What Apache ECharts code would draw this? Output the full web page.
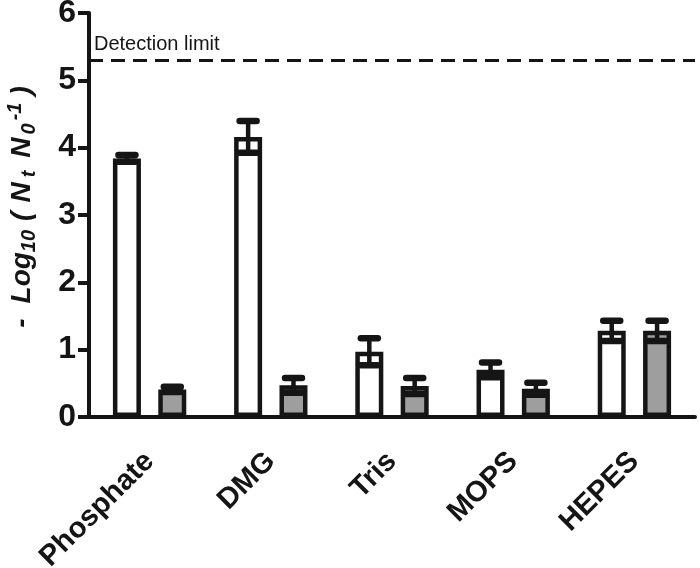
<!DOCTYPE html>
<html>
<head>
<meta charset="utf-8">
<script src="https://cdn.jsdelivr.net/npm/echarts@6/dist/echarts.min.js"></script>
<style>
html,body{margin:0;padding:0;background:#fff;}
#chart{width:700px;height:568px;}
</style>
</head>
<body>
<div id="chart"></div>
<script>
const categories = ['Phosphate', 'DMG', 'Tris', 'MOPS', 'HEPES'];
const whiteValues = [3.84, 4.16, 0.97, 0.70, 1.28];
const whiteErrors = [0.05, 0.235, 0.20, 0.11, 0.15];
const grayValues = [0.41, 0.47, 0.46, 0.42, 1.28];
const grayErrors = [0.04, 0.11, 0.12, 0.09, 0.15];
const detectionLimit = 5.3;
const detectionLabel = 'Detection limit';
const yMin = 0, yMax = 6, yInterval = 1;

const BAR_W = 28;
const BAR_GAP = 0.62;
const INK = '#151515';
const FONT = '"Liberation Sans", Arial, Helvetica, sans-serif';

const chart = echarts.init(document.getElementById('chart'), null, {renderer: 'canvas'});

function errorRenderer(sign) {
  return function (params, api) {
    const cat = api.value(0), v = api.value(1), e = api.value(2);
    const hi = api.coord([cat, v + e]);
    const lo = api.coord([cat, v - e]);
    const off = sign * (BAR_W + BAR_W * BAR_GAP) / 2;
    const x = hi[0] + off;
    const cw = 8.5;
    const st = {stroke: INK, lineWidth: 6.5, lineCap: 'round'};
    return {
      type: 'group',
      children: [
        {type: 'line', shape: {x1: x, y1: hi[1], x2: x, y2: lo[1]}, style: {stroke: INK, lineWidth: 4.5}},
        {type: 'line', shape: {x1: x - cw, y1: hi[1], x2: x + cw, y2: hi[1]}, style: st},
        {type: 'line', shape: {x1: x - cw, y1: lo[1], x2: x + cw, y2: lo[1]}, style: st}
      ]
    };
  };
}

const tok = (fs) => ({fontSize: fs, fontWeight: 'bold', fontStyle: 'italic', color: INK, fontFamily: FONT});

const option = {
  animation: false,
  backgroundColor: '#fff',
  grid: {left: 89, right: 5, top: 13, bottom: 151, containLabel: false, outerBoundsMode: 'none'},
  xAxis: {
    type: 'category',
    data: categories,
    axisLine: {lineStyle: {color: INK, width: 4}},
    axisTick: {alignWithLabel: true, length: 10, lineStyle: {color: INK, width: 3}},
    axisLabel: {rotate: 45, margin: 40, fontSize: 29, fontWeight: 'bold', color: INK, fontFamily: FONT}
  },
  yAxis: {
    type: 'value',
    min: yMin, max: yMax, interval: yInterval,
    axisLine: {show: true, lineStyle: {color: INK, width: 4}},
    axisTick: {show: true, length: 11, lineStyle: {color: INK, width: 4}},
    splitLine: {show: false},
    axisLabel: {margin: 13, fontSize: 32, fontWeight: 'bold', color: INK, fontFamily: FONT},
    name: '{a|-}{b|Log}{c|10}{d|(}{e|N}{f|t}{g|N}{h|0}{i|-1}{j|)}',
    nameLocation: 'middle',
    nameRotate: 90,
    nameGap: 50,
    nameTextStyle: {
      rich: {
        a: Object.assign(tok(28), {lineHeight: 34, verticalAlign: 'middle', padding: [0, 15, 0, 16]}),
        b: Object.assign(tok(28), {lineHeight: 34, verticalAlign: 'middle'}),
        c: Object.assign(tok(20), {lineHeight: 14, verticalAlign: 'bottom', padding: [0, 9, 0, 0]}),
        d: Object.assign(tok(28), {lineHeight: 34, verticalAlign: 'middle', padding: [0, 9, 0, 0]}),
        e: Object.assign(tok(28), {lineHeight: 34, verticalAlign: 'middle'}),
        f: Object.assign(tok(20), {lineHeight: 8, verticalAlign: 'bottom', padding: [0, 13, 0, 5]}),
        g: Object.assign(tok(28), {lineHeight: 34, verticalAlign: 'middle'}),
        h: Object.assign(tok(20), {lineHeight: 14, verticalAlign: 'bottom', padding: [0, 0, 0, 3]}),
        i: Object.assign(tok(20), {lineHeight: 14, verticalAlign: 'top', padding: [0, 0, 0, 3]}),
        j: Object.assign(tok(28), {lineHeight: 34, verticalAlign: 'middle', padding: [0, 0, 0, 7]})
      }
    }
  },
  series: [
    {
      type: 'bar',
      data: whiteValues,
      barWidth: BAR_W,
      barGap: (BAR_GAP * 100) + '%',
      itemStyle: {color: '#ffffff', borderColor: INK, borderWidth: 4.5},
      markLine: {
        silent: true,
        symbol: 'none',
        data: [{yAxis: detectionLimit}],
        lineStyle: {color: INK, width: 3, type: [14, 8]},
        label: {
          show: true,
          formatter: detectionLabel,
          position: 'insideStartTop',
          fontSize: 20,
          color: INK,
          fontFamily: FONT,
          distance: [5, 6]
        }
      }
    },
    {
      type: 'bar',
      data: grayValues,
      barWidth: BAR_W,
      itemStyle: {color: '#9e9e9e', borderColor: INK, borderWidth: 4.5}
    },
    {
      type: 'custom',
      renderItem: errorRenderer(-1),
      data: whiteValues.map((v, i) => [i, v, whiteErrors[i]]),
      z: 5
    },
    {
      type: 'custom',
      renderItem: errorRenderer(1),
      data: grayValues.map((v, i) => [i, v, grayErrors[i]]),
      z: 5
    }
  ]
};
chart.setOption(option);
</script>
</body>
</html>
